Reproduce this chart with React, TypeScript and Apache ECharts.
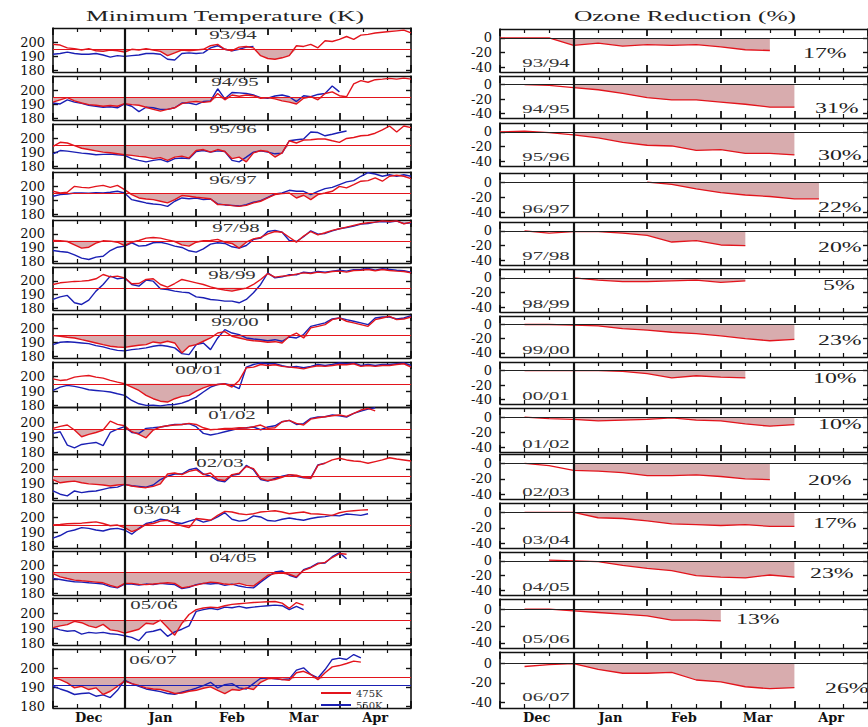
import { useEffect, useRef } from "react";
import * as echarts from "echarts";

// ---------- data ----------
const SEASONS = ["93/94", "94/95", "95/96", "96/97", "97/98", "98/99", "99/00", "00/01", "01/02", "02/03", "03/04", "04/05", "05/06", "06/07"];
const MONTHS = ["Dec", "Jan", "Feb", "Mar", "Apr"];
const MONTH_MID_DAYS = [15, 45, 75, 105, 135];
const DAY_STEP = 3; // temperature samples: every 3 days from 1 Dec
const PSC_T475 = 195;
const PSC_T550 = 191;
const TEMP_TICKS = [180, 190, 200];
const OZONE_TICKS = [0, -20, -40];
const OZONE_LOSS = ["17%", "31%", "30%", "22%", "20%", "5%", "23%", "10%", "10%", "20%", "17%", "23%", "13%", "26%"];

const t475_9394 = [198.5,198,196,195.5,194.5,195.5,194,193.5,194.5,194,193,195,194.5,195.5,194.5,193.5,190.5,192.5,194.5,194,194.5,195,197.5,198.5,195,194,196.5,197,196,190.5,188.5,188,189,190.5,197.5,197,198.5,196,201,200.5,202,204,202,205,205.5,206.5,207,207.5,208,208.5,206.5];
const t550_9394 = [191.5,192,193,192,191.5,191.5,192,191,189.5,190.5,190,190.5,191,192,192,191.5,188,187.5,192,192.5,192,192.5,196,197.5,195,194,195,196.5,197];
const t475_9495 = [191.6,193.2,194.8,192.5,191,189.8,189.4,188.7,189.2,188.7,190.5,189.8,189.4,188,186.5,185.3,186.5,187.6,190.5,191.6,192,191.4,192,197.7,193.2,196.6,195.7,196.6,196.1,194.3,194.8,193.9,192.5,191.6,190.3,194.3,195.4,193.2,197.7,198.8,196.1,195.4,204.4,206.7,205.6,207.4,207.8,208.3,207.8,208.5,207.8];
const t550_9495 = [191,190.3,193.2,191.6,190.7,189.4,188.7,188,188.3,187.6,190.3,188.7,184.9,188,187.6,186.5,186.5,187.6,191,191,189.8,192,192.5,201,193.9,198.4,198.1,197.7,196.6,194.8,194.3,195.9,196.6,195.4,192,196.1,195.4,197,197.7,202.9,198.8];
const t475_9596 = [194.3,197.1,196.6,194.8,192.9,192,191.1,190.2,189.7,189,188.3,187.9,187.2,186.7,185.6,186.3,184.4,186.7,187.4,186,191.3,192,190.2,192,190.6,185.6,186.7,183.3,189.7,191.3,190.6,186.7,189.7,198.2,196.6,198.7,198.9,199.4,199.4,198.2,197.1,199.8,200.5,201.7,202.1,203.5,205.8,208.6,204.4,208.6,207.4];
const t550_9596 = [189,191.3,190.9,190.2,189.5,189,188.3,188.6,188.8,188.3,187.9,185.6,184.4,183.3,184.4,185.1,183.3,185.6,186,185.6,190.6,191.3,190.2,191.1,190.6,184.4,183.3,186.7,190.2,191.1,190.2,189,189.5,198.2,198.9,199.4,204.4,204,201.7,202.8,204,205.1];
const t475_9697 = [196.4,195.2,195.7,199.9,199.2,198.8,199.9,200.6,199.2,200.6,197.6,194.1,191.7,191,190.5,189.4,188.2,190.5,193.4,192.9,192.2,191.7,191.2,187,187,186.3,185.8,186.5,188.2,189.4,191.7,194.1,194.8,195.2,191.7,193.6,190.5,194.1,195.2,196.4,199.9,198.8,201.1,203.5,203.9,205.8,203.5,207,207.7,207,205.3];
const t550_9697 = [192.9,194.1,194.5,195.2,195.2,195,195.5,195.2,195.7,196.4,195.2,190.5,189.4,188.2,187.5,187,185.8,189.4,191.7,191.2,191.7,190.5,191,187.5,186.8,186.5,186,187,188.7,189.8,192.2,194.5,195.2,197.1,196.4,196.4,194.1,196.4,198.3,199.2,201.1,203,203.9,207,209.5,208.6,207,208.1,207,208.1,207];
const t475_9798 = [195.2,195,194.5,192.1,189.7,190.4,193.3,195,194.8,194,191.6,194,195.2,196.9,197.4,196.9,195.7,194.5,192.1,191.2,194,195,195.2,196,194,193.1,189.7,194,196.4,197.4,200,201.7,201.2,197.6,194,198.4,201.7,199.3,200.8,202.5,203.7,204.9,206.1,207.3,208,208.5,209.4,208.9,209.4,207.3,208.5];
const t550_9798 = [188,187.3,186.8,184.9,182.5,181.5,183.2,183.9,188,190.4,191.2,193.6,191.2,191.6,193.6,194,192.8,191.2,190.2,187.8,186.8,189.2,192.6,193.6,193.1,190.7,189.7,191.6,196,196.9,201.7,202.5,201.2,195.2,194.5,197.9,202.2,199.8,200.3,202.2,203.7,204.6,205.6,207,207.5,208.5,208.9,208.5,209.2,207.5,208];
const t475_9899 = [197.4,198.6,199.1,199.6,199.8,200.3,201.5,204.6,202.9,203.4,202.2,197.9,198.1,201,201.5,197.4,195.5,198.1,201,199.8,198.6,197.4,195.7,194.3,193.3,192.6,193.8,194.8,197.4,201,205.3,202.7,203.4,203.9,204.9,205.8,205.3,206.3,205.8,206.8,207,206.3,207.5,207.7,208.2,207.3,208.2,207.5,207,206.8,205.8];
const t550_9899 = [186.6,188.5,189.5,184.2,183,186.1,192.6,197.4,203.4,201.5,202.2,197.4,196.2,200.5,199.8,194.3,193.8,192.6,191.9,191.4,188.5,187.8,186.6,186.1,185.4,185.4,184.2,186.6,191.4,197.4,205.8,202.2,202.9,204.4,204.4,206.3,205.8,206.8,206.3,207,207.7,207,208,208.2,208.9,207.7,208.7,208.2,207.7,207.3,206.3];
const t475_9900 = [194.8,194.3,193.6,193.1,191.9,190.8,189.6,188.4,187.3,186.8,186.5,187.3,188,188.4,190.3,189.6,190.8,189.6,182.6,187.3,188.4,190.8,193.1,196.6,197.6,194.3,193.1,191.9,191.2,190.8,190.1,190.5,189.6,194.3,196.6,193.1,200.2,201.3,202.5,206,207.2,204.9,203.7,202.5,201.3,206,207.2,208.4,206,206.5,207.9];
const t550_9900 = [188.4,190.1,190.5,190.1,189.6,189.1,187.7,186.8,185.4,184.4,184,184.9,185.4,186.1,187.3,188,187.3,186.1,182.1,181.4,188.4,189.6,184.9,193.1,199,196.6,195.5,193.1,192.4,191.9,191.2,191.9,190.8,193.8,193.1,195.5,201.3,202.5,203.7,206.5,207.2,206,204.9,203.7,202.5,207.2,207.9,207.9,206.5,207.2,208.8];
const t475_0001 = [198.4,197.3,197.8,199.6,200.3,200.7,199.6,198.9,197.3,196.1,195,192.7,190.4,187,184.7,183,182.4,184.7,186.3,187,189.9,192.2,193.9,194.5,195,192.7,197.3,206,206.5,208.3,207.6,208.1,207,206.5,206,205.3,206.5,207.4,207,207.6,208.3,208.1,208.8,207,207.6,207,207.6,207.6,208.3,208.8,206.5];
const t550_0001 = [190.4,192.7,193.9,193.2,192.2,190.9,190.4,189.9,189.3,188.1,187,183.5,181.2,180.1,180.2,179.8,180.5,180.7,181.7,183.5,185.8,189.3,192.7,194.5,195,193.9,191.6,206.5,208.3,209.3,208.8,208.8,207.4,206.5,207,206,207,208.3,207.6,208.3,209.3,208.8,209.3,207.6,208.3,207.6,208.3,208.3,208.8,209.3,207.6];
const t475_0102 = [195.9,197.2,198.1,194.8,190.4,191.9,193.2,194.8,200.7,198.5,197.6,193.7,191.9,189.7,194.8,196.8,197.6,198.1,198.5,199.2,198.5,196.3,195,195.4,195.9,195.9,196.3,196.1,197,198.1,195.9,196.3,200.3,201.2,199.2,198.1,202,202.9,203.6,204.2,204.7,203.8,205.8,208,209.1,207.5];
const t550_0102 = [192.6,193.7,184.9,183.1,185.3,186,186.6,184.5,193.2,195.4,197,193.2,192.6,195.9,196.3,196.8,197.6,198.5,198.5,199,197,192.6,191.5,192.4,193.7,194.8,195.9,196.3,196.8,195,196.8,197.6,200.3,201.2,198.5,199,202.5,203.4,203.6,204.7,204.2,203.4,205.8,207.3,208.6,209.5];
const t475_0203 = [192.8,190.6,191.3,191.7,190.6,189.9,189.5,189.1,188.4,189.1,189.5,188.4,187.7,187.3,188.2,189.9,196.5,197.2,196.1,198.3,199.4,196.1,197.2,192.8,192.1,196.1,197,201.6,200.1,193.5,192.1,192.8,194.3,196.1,195.7,194.3,193.5,202.3,203.8,206,207.1,206,205.3,204.9,203.8,204.9,206,207.5,206.6,206,205.3];
const t550_0203 = [185.1,182.9,181.8,185.1,184,184.7,185.1,186.2,187.3,187.7,189.5,188.6,188.2,187.7,189.1,192.8,195,196.5,196.5,199.4,200.5,196.5,195,192.1,191.3,195.7,196.5,202.3,199.4,192.8,191.7,193.5,195,196.1,195,193.9,193.9,202.7,203.8];
const t475_0304 = [194.8,195.2,195.7,195.9,196.1,196.6,197,195.9,194.3,194.8,193,190.3,192.1,195.2,195.9,197.5,198.1,195.9,194.3,193,199.3,198.8,198.1,201.5,204.2,203.8,202.6,202,202.6,203.8,204.2,204.7,203.8,202.6,203.3,203.8,202.6,202.4,202,201.5,203.3,204.2,204.7,205.1,205.3];
const t550_0304 = [185.8,187.6,190.3,191.4,193,192.5,191.4,190.7,192.1,192.5,191.4,188.5,192.5,195.9,197,198.8,198.1,196.6,195.9,197.5,198.8,196.8,198.1,200.4,203.3,198.8,197.5,198.1,201.1,200.4,197.9,197.5,198.8,199.7,198.8,198.1,199.3,200.2,200.6,201.5,201.1,202.4,202,201.5,202.6];
const t475_0405 = [194.1,191.8,190.6,189.5,189,188.6,188.1,187.6,185.8,184.4,187.2,187.2,186.5,186.3,186.7,187.2,187.6,187.2,184,184.9,186,187.2,188.1,187.6,186.7,186.3,187.2,185.8,185.3,189,192.9,194.1,194.5,193.6,191.8,196.4,198.2,201,202,205.4,208.2,207.7];
const t550_0405 = [190.6,189.9,189,188.3,188.1,187.6,187.2,186.7,184.9,184,186.7,186.7,186,186.7,186.3,187.2,186.7,186.3,183.5,184.4,186.3,187.2,186.7,187.2,185.8,186.7,185.3,184.4,184,188.1,191.8,195.2,195.9,192.9,191.3,196.8,198.7,201.4,201.5,206,208.8,204.5];
const t475_0506 = [190.5,191.6,192.4,194.6,193.7,191.6,190.5,192.6,189,188.3,186.8,188.1,189.4,193.3,192.8,195.4,190.5,185.5,193.3,199.1,202.3,203.4,204,203.6,204.9,205.8,206.2,206.6,207,207.3,207.5,207.7,206.6,203.2,207,205.3];
const t550_0506 = [190.5,189,188.1,188.5,186.2,187.3,186.8,187.3,186.4,186,185.1,184,181.9,187.3,188.1,189.4,184.7,187.7,189.4,191.6,201.2,202.3,203.2,202.3,204,203.6,204.5,203.4,204,204.5,204.9,205.3,204.9,202.3,204.5,202.3];
const t475_0607 = [194.8,193.9,192.2,189.6,190.4,188.7,189.6,186.1,187.8,190.4,193.1,191.8,190.8,189.6,189,188.7,187.8,186.6,186.9,187.8,188.3,189.4,190.1,188.3,186.6,188.7,188.3,189.6,188.7,192.5,194.3,194.6,193.9,193.6,197.5,198.3,196.6,193.9,197.5,200.6,201.3,202.4,203.6,203.1];
const t550_0607 = [190.4,189,187.8,186.1,186.6,186.9,185.2,185.9,184.5,188.3,193.6,191.8,190.4,189,188.3,187.6,186.6,186.2,187.3,188.3,189.4,190.8,192.5,189.6,191.3,191.8,189.6,189,191.8,194.6,194.8,194.3,193.9,194.3,198.9,200.1,196.6,194.8,199.2,204.5,205.2,204.5,207.1,205.3];

// ozone reduction (%) as [day since 1 Dec, value]
const oz9394 = [[0,0],[20,0],[30,-10],[40,-7],[50,-11],[60,-9],[70,-10],[80,-9],[90,-12],[100,-16],[110,-17]];
const oz9495 = [[10,0],[20,-1],[30,-4],[40,-7],[50,-12],[60,-18],[70,-21],[80,-21],[90,-24],[100,-27],[110,-31],[120,-31]];
const oz9596 = [[0,0],[10,1],[20,-1],[30,-4],[40,-8],[50,-14],[60,-18],[70,-19],[80,-25],[90,-24],[100,-29],[110,-29],[120,-31]];
const oz9697 = [[60,0],[70,-3],[80,-9],[90,-14],[100,-17],[110,-19],[120,-22],[130,-22]];
const oz9798 = [[10,0],[20,-3],[30,-1],[40,-1],[50,-3],[60,-6],[70,-15],[80,-13],[90,-19],[100,-20]];
const oz9899 = [[30,0],[40,-3],[50,-5],[60,-5],[70,-4],[80,-3],[90,-6],[100,-4]];
const oz9900 = [[10,0],[20,0],[30,-1],[40,-2],[50,-6],[60,-8],[70,-11],[80,-13],[90,-16],[100,-20],[110,-23],[120,-21]];
const oz0001 = [[10,0],[20,0],[30,0],[40,0],[50,-1],[60,-4],[70,-10],[80,-7],[90,-9],[100,-10]];
const oz0102 = [[10,0],[20,-2],[30,-3],[40,-5],[50,-4],[60,-3],[70,-1],[80,-4],[90,-5],[100,-9],[110,-12],[120,-10]];
const oz0203 = [[10,0],[20,-3],[30,-9],[40,-10],[50,-12],[60,-16],[70,-16],[80,-15],[90,-17],[100,-20],[110,-21]];
const oz0304 = [[10,0],[20,0],[30,0],[40,-7],[50,-8],[60,-11],[70,-15],[80,-16],[90,-17],[100,-16],[110,-18],[120,-18]];
const oz0405 = [[20,1],[30,0],[40,-1],[50,-6],[60,-10],[70,-13],[80,-20],[90,-22],[100,-23],[110,-19],[120,-22]];
const oz0506 = [[10,0],[20,0],[30,-2],[40,-4],[50,-6],[60,-8],[70,-13],[80,-13],[90,-14]];
const oz0607 = [[10,-3],[20,-1],[30,0],[40,-6],[50,-10],[60,-10],[70,-9],[80,-17],[90,-19],[100,-24],[110,-26],[120,-25]];

const T475 = [t475_9394, t475_9495, t475_9596, t475_9697, t475_9798, t475_9899, t475_9900, t475_0001, t475_0102, t475_0203, t475_0304, t475_0405, t475_0506, t475_0607];
const T550 = [t550_9394, t550_9495, t550_9596, t550_9697, t550_9798, t550_9899, t550_9900, t550_0001, t550_0102, t550_0203, t550_0304, t550_0405, t550_0506, t550_0607];
const OZONE = [oz9394, oz9495, oz9596, oz9697, oz9798, oz9899, oz9900, oz0001, oz0102, oz0203, oz0304, oz0405, oz0506, oz0607];

// ---------- layout & style ----------
const LEFT_TOP = [28, 76, 124, 172, 220, 267, 314, 362, 407, 454, 503, 551, 598, 649];
const LEFT_BOTTOM = [72, 120, 168, 216, 263, 310, 358, 407, 454, 500, 548, 595, 645, 708];
const RIGHT_TOP = [29, 76, 123, 173, 222, 269, 316, 362, 408, 454, 503, 552, 599, 652];
const RIGHT_BOTTOM = [72, 118, 166, 217, 265, 312, 357, 404, 452, 499, 548, 595, 648, 708];
const LEFT_LABEL_POS = [[233,35],[235,82],[233,129],[233,180],[236,228],[232,275],[235,322],[199,370],[232,415],[220,463],[157,510],[233,558],[154,605],[153,660]];
const RIGHT_LABEL_Y = [63,109,157,209,256,304,350,396,444,492,540,587,639,697];
const PCT_POS = [[803,53],[815,108],[818,155],[818,207],[818,247],[823,285],[818,340],[813,378],[818,424],[808,480],[813,523],[810,573],[736,619],[825,688]];

const RED = "#e3141c";
const BLUE = "#1a1fb4";
const FILL = "#d8acae";
const AXIS_FONT = "'DejaVu Serif', serif";
const TEXT_FONT = "'Liberation Serif', 'Times New Roman', serif";

function buildOption() {
  const grid: any[] = [];
  const xAxis: any[] = [];
  const yAxis: any[] = [];
  const series: any[] = [];
  const graphic: any[] = [];
  const n = SEASONS.length;

  // returns the index of the panel's main x/y axes
  const addPanel = (left: number, width: number, top: number, bottom: number, ymin: number, ymax: number, ticks: number[], isBottom: boolean) => {
    const g = grid.length;
    grid.push({ left, width, top, height: bottom - top, show: false });
    const xBase = {
      type: "value", gridIndex: g, min: 0, max: 150, interval: 30,
      splitLine: { show: false },
      axisLine: { show: true, onZero: false, lineStyle: { color: "#111", width: 1.4 } },
      axisTick: { show: true, inside: true, length: 7, lineStyle: { color: "#111", width: 1.8 } },
      minorTick: { show: true, splitNumber: 3, length: 4, lineStyle: { color: "#111", width: 1.2 } },
      minorSplitLine: { show: false },
    };
    const axisIdx = xAxis.length;
    xAxis.push({
      ...xBase, position: "bottom",
      axisLabel: isBottom ? {
        show: true, customValues: MONTH_MID_DAYS,
        formatter: (v: number) => MONTHS[MONTH_MID_DAYS.indexOf(v)] || "",
        fontFamily: AXIS_FONT, fontSize: 13, fontWeight: "bold", color: "#111", margin: 3,
      } : { show: false },
    });
    xAxis.push({ ...xBase, position: "top", axisLabel: { show: false } });
    const yBase = {
      type: "value", gridIndex: g, min: ymin, max: ymax,
      splitLine: { show: false },
      axisLine: { show: true, onZero: false, lineStyle: { color: "#111", width: 1.6 } },
      axisTick: { show: true, inside: true, length: 5, customValues: ticks, lineStyle: { color: "#111", width: 1.4 } },
    };
    yAxis.push({
      ...yBase, position: "left",
      axisLabel: { show: true, customValues: ticks, fontFamily: AXIS_FONT, fontSize: 13, color: "#111", margin: 8 },
    });
    yAxis.push({ ...yBase, position: "right", axisLabel: { show: false } });
    return axisIdx;
  };

  for (let p = 0; p < n; p++) {
    const last = p === n - 1;
    // ---- left: minimum temperature ----
    const a = addPanel(53, 358, LEFT_TOP[p], LEFT_BOTTOM[p], 179, 210, TEMP_TICKS, last);
    const red = T475[p].map((v, i) => [i * DAY_STEP, v]);
    const blue = T550[p].map((v, i) => [i * DAY_STEP, v]);
    const below = T475[p].map((v, i) => [i * DAY_STEP, Math.min(v, PSC_T475)]);
    series.push({
      type: "line", name: `fill ${SEASONS[p]}`, xAxisIndex: a, yAxisIndex: a,
      data: below, showSymbol: false, silent: true, z: 1,
      lineStyle: { width: 0, opacity: 0 }, itemStyle: { color: FILL },
      areaStyle: { color: FILL, opacity: 1, origin: PSC_T475 },
    });
    series.push({
      type: "line", name: last ? "550K" : `550K ${SEASONS[p]}`, xAxisIndex: a, yAxisIndex: a,
      data: blue, showSymbol: false, z: 2,
      lineStyle: { color: BLUE, width: 1.4 }, itemStyle: { color: BLUE },
      markLine: last ? {
        silent: true, symbol: ["none", "none"], label: { show: false },
        data: [{ yAxis: PSC_T550, lineStyle: { color: BLUE, width: 1, type: "solid" } }],
      } : undefined,
    });
    series.push({
      type: "line", name: last ? "475K" : `475K ${SEASONS[p]}`, xAxisIndex: a, yAxisIndex: a,
      data: red, showSymbol: false, z: 3,
      lineStyle: { color: RED, width: 1.4 }, itemStyle: { color: RED },
      markLine: {
        silent: true, symbol: ["none", "none"], label: { show: false },
        data: [
          { yAxis: PSC_T475, lineStyle: { color: RED, width: 1.2, type: "solid" } },
          { xAxis: 30, lineStyle: { color: "#111", width: 2.2, type: "solid" } },
        ],
      },
    });
    graphic.push({
      type: "text", x: LEFT_LABEL_POS[p][0], y: LEFT_LABEL_POS[p][1], scaleX: 1.6, z: 10,
      style: { text: SEASONS[p], font: `13px ${TEXT_FONT}`, fill: "#333", textAlign: "center", textVerticalAlign: "middle", align: "center", verticalAlign: "middle" },
    });

    // ---- right: ozone reduction ----
    const b = addPanel(500, 375, RIGHT_TOP[p], RIGHT_BOTTOM[p], -46, 12, OZONE_TICKS, last);
    const oz = OZONE[p];
    const firstIdx = oz.findIndex((d) => d[0] >= 30);
    const start = firstIdx > 0 && oz[firstIdx - 1][1] >= 0 ? firstIdx - 1 : firstIdx;
    const ozArea = oz.slice(start);
    series.push({
      type: "line", name: `ozfill ${SEASONS[p]}`, xAxisIndex: b, yAxisIndex: b,
      data: ozArea, showSymbol: false, silent: true, z: 1,
      lineStyle: { width: 0, opacity: 0 }, itemStyle: { color: FILL },
      areaStyle: { color: FILL, opacity: 1, origin: 0 },
    });
    series.push({
      type: "line", name: `ozone ${SEASONS[p]}`, xAxisIndex: b, yAxisIndex: b,
      data: oz, showSymbol: false, z: 3,
      lineStyle: { color: RED, width: 1.3 }, itemStyle: { color: RED },
      markLine: {
        silent: true, symbol: ["none", "none"], label: { show: false },
        data: [
          { yAxis: 0, lineStyle: { color: "#222", width: 1, type: "solid" } },
          { xAxis: 30, lineStyle: { color: "#111", width: 2.2, type: "solid" } },
        ],
      },
    });
    graphic.push({
      type: "text", x: 546, y: RIGHT_LABEL_Y[p], scaleX: 1.6, z: 10,
      style: { text: SEASONS[p], font: `13px ${TEXT_FONT}`, fill: "#333", textAlign: "center", textVerticalAlign: "middle", align: "center", verticalAlign: "middle" },
    });
    graphic.push({
      type: "text", x: PCT_POS[p][0], y: PCT_POS[p][1], scaleX: 1.7, z: 10,
      style: { text: OZONE_LOSS[p], font: `14px ${TEXT_FONT}`, fill: "#222", textAlign: "left", textVerticalAlign: "middle", align: "left", verticalAlign: "middle" },
    });
  }

  graphic.push({
    type: "text", x: 225, y: 16, scaleX: 1.7, z: 10,
    style: { text: "Minimum Temperature (K)", font: `15px ${TEXT_FONT}`, fill: "#222", textAlign: "center", textVerticalAlign: "middle", align: "center", verticalAlign: "middle" },
  });
  graphic.push({
    type: "text", x: 685, y: 16, scaleX: 1.7, z: 10,
    style: { text: "Ozone Reduction (%)", font: `15px ${TEXT_FONT}`, fill: "#222", textAlign: "center", textVerticalAlign: "middle", align: "center", verticalAlign: "middle" },
  });

  return {
    animation: false,
    backgroundColor: "#ffffff",
    grid, xAxis, yAxis, series, graphic,
    legend: {
      data: ["475K", "550K"], orient: "vertical", left: 316, top: 683,
      itemWidth: 30, itemHeight: 2, itemGap: 2, icon: "rect", selectedMode: false,
      textStyle: { fontFamily: AXIS_FONT, fontSize: 10, color: "#333", lineHeight: 10 },
    },
  };
}

export default function App() {
  const ref = useRef<HTMLDivElement>(null);
  useEffect(() => {
    if (!ref.current) return;
    const chart = echarts.init(ref.current, undefined, { renderer: "svg" });
    chart.setOption(buildOption() as any);
    return () => chart.dispose();
  }, []);
  return <div ref={ref} style={{ position: "absolute", left: 0, top: 0, width: 868, height: 727 }} />;
}
